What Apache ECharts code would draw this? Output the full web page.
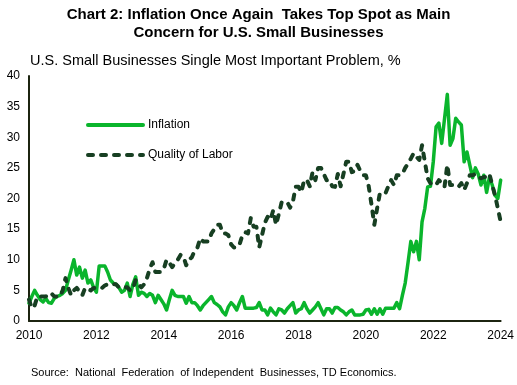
<!DOCTYPE html>
<html>
<head>
<meta charset="utf-8">
<script src="https://cdn.jsdelivr.net/npm/echarts@6/dist/echarts.min.js"></script>
<style>
html,body{margin:0;padding:0;background:#fff;}
#chart{width:517px;height:385px;}
</style>
</head>
<body>
<div id="chart"></div>
<script>
// Monthly observations Jan 2010 .. Jan 2024
var startYear = 2010;
var tickYears = ['2010','2012','2014','2016','2018','2020','2022','2024'];
var yTicks = [0,5,10,15,20,25,30,35,40];

var inflation = [
  // 2010
  2.9, 4, 5, 4.2, 3.5, 3.1, 3.7, 3, 2.9, 3.7, 4, 4.2,
  // 2011
  4.5, 5, 6.7, 8.3, 10, 7.5, 8.8, 7, 8.3, 6.2, 6.7, 5.5,
  // 2012
  4.7, 9, 9, 9, 8, 6.7, 6.2, 6, 5.5, 4.7, 5, 6.2,
  // 2013
  4, 6, 7.2, 4.2, 4.7, 4.5, 4, 4.5, 4.2, 3, 4.2, 3.5,
  // 2014
  2.8, 1.8, 3.5, 5, 4.2, 4, 4, 4, 2.9, 4, 3, 3,
  // 2015
  2.5, 1.8, 2.5, 3, 3.5, 4, 3, 2.7, 2.3, 1.5, 1, 2.3,
  // 2016
  3, 2.5, 1.8, 3, 4, 2.1, 2.1, 2.1, 2.1, 2.2, 3, 1.8,
  // 2017
  1.8, 1, 2.1, 1.5, 1, 2, 1.8, 1.3, 2, 2.5, 3, 1.3,
  // 2018
  1.8, 2, 3, 2, 1.3, 1.8, 2.3, 3, 2, 1, 2, 2,
  // 2019
  1.3, 2.2, 2.2, 1.8, 1.5, 1, 1.5, 1.8, 1, 1, 1, 1.1,
  // 2020
  1.8, 1.9, 1.1, 2, 1.1, 2, 1.1, 2.1, 2.1, 2.1, 2.1, 3,
  // 2021
  2, 4.2, 6.2, 9.5, 13, 11.3, 13, 10, 16.2, 18.4, 21.9, 22,
  // 2022
  26, 31.7, 32.3, 29, 33, 37, 28.7, 29.8, 33.1, 32.5, 32, 26,
  // 2023
  27.6, 25.5, 23.4, 25, 24, 22.2, 23.8, 21, 23.5, 22.2, 20.5, 20,
  // 2024
  23
];

var qualityOfLabor = [
  // 2010
  3.5, 2.1, 2.5, 4, 4, 4, 4, 4.5, 4.5, 4, 4, 4,
  // 2011
  5, 7, 5.4, 4.2, 5, 5.4, 4.8, 4.2, 5.4, 5.2, 5, 5.4,
  // 2012
  5.4, 5.4, 5.4, 5.8, 6, 6, 6, 6, 5.5, 5.5, 5.5, 5.5,
  // 2013
  5, 5.2, 6.7, 6, 5.5, 6, 7, 8.5, 9.6, 8, 8, 8,
  // 2014
  8.5, 10, 9.5, 8.8, 9.5, 10, 10.8, 10.5, 9.1, 10, 10.4, 11.5,
  // 2015
  12, 13.5, 13, 13, 13, 14.3, 15, 15.7, 15.7, 14.3, 14.3, 14,
  // 2016
  12.5, 12, 12, 12.5, 14, 14.5, 14.3, 16.8, 15.4, 15.4, 12, 14,
  // 2017
  16, 17, 16.5, 18.1, 15.7, 17.5, 19.4, 19.4, 19.4, 18.5, 19.5, 21.9,
  // 2018
  21.9, 21, 23, 23, 22, 24.3, 23, 25, 25, 24, 23, 23,
  // 2019
  22, 21.9, 24, 22, 24, 26, 26, 24.3, 24.5, 25.5, 24.5, 23.8,
  // 2020
  23.8, 22, 19, 15.7, 18.4, 20.9, 20.9, 20.9, 22, 23, 22.2, 23.8,
  // 2021
  23.8, 24, 25, 25.7, 26.5, 27.4, 26.8, 26.3, 28.7, 26, 23.3, 22.5,
  // 2022
  22.2, 22.2, 23, 22.5, 21.9, 25.5, 22.2, 22.2, 22.2, 21.9, 22.5, 21.4,
  // 2023
  22.5, 23.8, 23.8, 24, 23.5, 23.3, 23.5, 23.5, 24, 22.2, 20.5, 18.4,
  // 2024
  16.2
];

var months = [];
for (var i = 0; i < inflation.length; i++) {
  var y = startYear + Math.floor(i / 12);
  var m = (i % 12) + 1;
  months.push(y + '-' + (m < 10 ? '0' + m : m));
}

var FONT = '"Liberation Sans", Arial, sans-serif';
var chart = echarts.init(document.getElementById('chart'), null, {renderer: 'canvas'});
chart.setOption({
  animation: false,
  backgroundColor: '#ffffff',
  textStyle: {fontFamily: FONT},
  title: [
    {
      text: 'Chart 2: Inflation Once Again  Takes Top Spot as Main',
      left: 'center', top: 7, padding: 0,
      textStyle: {fontSize: 15, fontWeight: 'bold', color: '#000', fontFamily: FONT}
    },
    {
      text: 'Concern for U.S. Small Businesses',
      left: 'center', top: 25, padding: 0,
      textStyle: {fontSize: 15, fontWeight: 'bold', color: '#000', fontFamily: FONT}
    },
    {
      text: 'U.S. Small Businesses Single Most Important Problem, %',
      left: 30, top: 53, padding: 0,
      textStyle: {fontSize: 14.5, fontWeight: 'normal', color: '#000', fontFamily: FONT}
    },
    {
      text: 'Source:  National  Federation  of Independent  Businesses, TD Economics.',
      left: 31, top: 367, padding: 0,
      textStyle: {fontSize: 11, fontWeight: 'normal', color: '#000', fontFamily: FONT}
    }
  ],
  legend: {
    orient: 'vertical',
    left: 81, top: 114,
    itemWidth: 55, itemHeight: 14,
    itemGap: 18,
    lineStyle: {width: 4},
    textStyle: {fontSize: 12, color: '#000', fontFamily: FONT},
    data: [
      {name: 'Inflation', itemStyle: {opacity: 0}},
      {name: 'Quality of Labor', itemStyle: {opacity: 0}}
    ]
  },
  grid: {left: 29, right: 14, top: 76, bottom: 64, containLabel: false},
  xAxis: {
    type: 'category',
    data: months,
    boundaryGap: false,
    axisLine: {show: true, lineStyle: {color: '#1c2410', width: 2}},
    axisTick: {show: false},
    splitLine: {show: false},
    axisLabel: {
      color: '#000', fontSize: 12, margin: 9, fontFamily: FONT,
      interval: function (idx) { return idx % 24 === 0; },
      formatter: function (v) {
        var yr = v.slice(0, 4);
        return tickYears.indexOf(yr) >= 0 ? yr : '';
      }
    }
  },
  yAxis: {
    type: 'value',
    min: yTicks[0], max: yTicks[yTicks.length - 1], interval: 5,
    axisLine: {show: true, lineStyle: {color: '#1c2410', width: 2}},
    axisTick: {show: false},
    splitLine: {show: false},
    axisLabel: {color: '#000', fontSize: 12, margin: 9, fontFamily: FONT}
  },
  series: [
    {
      name: 'Inflation',
      type: 'line',
      data: inflation,
      symbol: 'none',
      lineStyle: {color: '#0ab52c', width: 3.5, cap: 'round', join: 'round'},
      itemStyle: {color: '#0ab52c'}
    },
    {
      name: 'Quality of Labor',
      type: 'line',
      data: qualityOfLabor,
      symbol: 'none',
      lineStyle: {color: '#173f22', width: 4, type: [5, 8], cap: 'round', join: 'round'},
      itemStyle: {color: '#173f22'}
    }
  ]
});
</script>
</body>
</html>
